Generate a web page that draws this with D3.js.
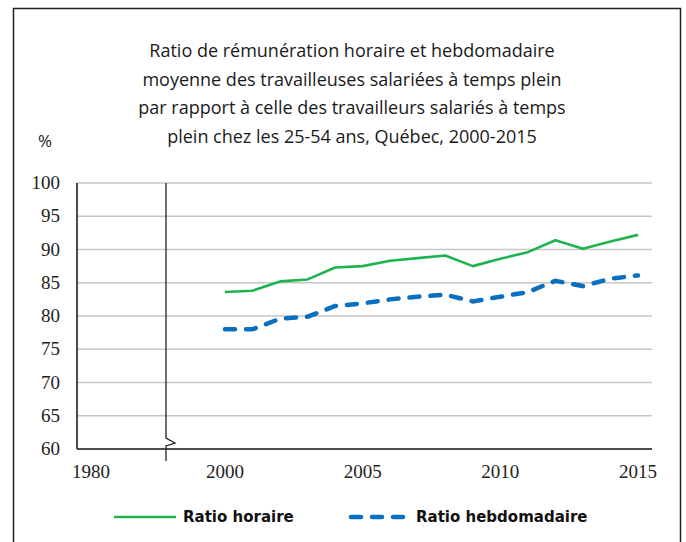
<!DOCTYPE html>
<html lang="fr">
  <head>
    <meta charset="UTF-8">
    <title>Ratio de rémunération</title>
    <style>
body{
    margin: 0;
    background: #fff;
}
svg{
    display: block;
}
    </style>
  </head>
  <body>
    <script src="https://cdn.jsdelivr.net/npm/d3@7/dist/d3.min.js"></script>
    <script>
// données
var years = [2000, 2001, 2002, 2003, 2004, 2005, 2006, 2007, 2008, 2009, 2010, 2011, 2012, 2013, 2014, 2015];
var ratioHoraire = [83.6, 83.8, 85.2, 85.5, 87.3, 87.5, 88.3, 88.7, 89.1, 87.5, 88.6, 89.6, 91.4, 90.1, 91.2, 92.2];
var ratioHebdo = [78.0, 78.0, 79.6, 79.9, 81.5, 81.9, 82.5, 82.9, 83.2, 82.2, 82.9, 83.6, 85.3, 84.5, 85.6, 86.1];
var yTicks = [60, 65, 70, 75, 80, 85, 90, 95, 100];
var xTicks = [1980, 2000, 2005, 2010, 2015];
var breakYear = 1990;
var titleLines = [
    "Ratio de rémunération horaire et hebdomadaire",
    "moyenne des travailleuses salariées à temps plein",
    "par rapport à celle des travailleurs salariés à temps",
    "plein chez les 25-54 ans, Québec, 2000-2015"
];
var seriesNames = ["Ratio horaire", "Ratio hebdomadaire"];

var width = 686, height = 542;
var plotLeft = 77, plotRight = 652, plotTop = 183, plotBottom = 449;
var green = "#1fb34f", blue = "#0b6fbf";

var svg = d3.select("body").append("svg")
    .attr("width", width)
    .attr("height", height);

// cadre
svg.append("rect")
    .attr("x", 13.5).attr("y", 8.5)
    .attr("width", 667).attr("height", 560)
    .attr("fill", "none")
    .attr("stroke", "#222")
    .attr("stroke-width", 1.5);

// titre
svg.append("g").selectAll("text")
    .data(titleLines)
    .enter().append("text")
    .attr("x", 352)
    .attr("y", function(d, i){ return 57 + i * 28.5; })
    .attr("text-anchor", "middle")
    .attr("font-family", "'Open Sans', sans-serif")
    .attr("font-size", 18)
    .attr("fill", "#1a1a1a")
    .text(function(d){ return d; });

svg.append("text")
    .attr("x", 45).attr("y", 147)
    .attr("text-anchor", "middle")
    .attr("font-family", "'Open Sans', sans-serif")
    .attr("font-size", 17)
    .attr("fill", "#1a1a1a")
    .text("%");

// échelles (axe brisé entre 1980 et 2000)
var x = d3.scaleLinear()
    .domain([1980, breakYear, 2000, 2015])
    .range([91, 166, 225, 638]);
var y = d3.scaleLinear().domain([60, 100]).range([plotBottom, plotTop]);

// grille
svg.append("g").selectAll("line")
    .data(yTicks.slice(1))
    .enter().append("line")
    .attr("x1", plotLeft).attr("x2", plotRight)
    .attr("y1", function(d){ return y(d); })
    .attr("y2", function(d){ return y(d); })
    .attr("stroke", "#c6c6c6")
    .attr("stroke-width", 1.3);

// étiquettes y
svg.append("g").selectAll("text")
    .data(yTicks)
    .enter().append("text")
    .attr("x", 60)
    .attr("y", function(d){ return y(d) + 6; })
    .attr("text-anchor", "end")
    .attr("font-family", "'Liberation Serif', serif")
    .attr("font-size", 19)
    .attr("fill", "#222")
    .text(function(d){ return d; });

// étiquettes x
svg.append("g").selectAll("text")
    .data(xTicks)
    .enter().append("text")
    .attr("x", function(d){ return x(d); })
    .attr("y", 478)
    .attr("text-anchor", "middle")
    .attr("font-family", "'Liberation Serif', serif")
    .attr("font-size", 19)
    .attr("fill", "#222")
    .text(function(d){ return d; });

// axes
svg.append("line")
    .attr("x1", plotLeft).attr("x2", plotLeft)
    .attr("y1", plotTop).attr("y2", plotBottom)
    .attr("stroke", "#111").attr("stroke-width", 1.5);
svg.append("line")
    .attr("x1", plotLeft).attr("x2", plotRight)
    .attr("y1", plotBottom).attr("y2", plotBottom)
    .attr("stroke", "#111").attr("stroke-width", 1.5);

// ligne de rupture
var bx = x(breakYear);
svg.append("path")
    .attr("d", "M" + bx + "," + plotTop + "V438L" + (bx + 9) + ",443L" + bx + ",446V461")
    .attr("fill", "none")
    .attr("stroke", "#222")
    .attr("stroke-width", 1.3);

// séries
var line = d3.line()
    .x(function(d){ return x(d[0]); })
    .y(function(d){ return y(d[1]); });

svg.append("path")
    .datum(d3.zip(years, ratioHoraire))
    .attr("d", line)
    .attr("fill", "none")
    .attr("stroke", green)
    .attr("stroke-width", 2.6)
    .attr("stroke-linejoin", "round");

svg.append("path")
    .datum(d3.zip(years, ratioHebdo))
    .attr("d", line)
    .attr("fill", "none")
    .attr("stroke", blue)
    .attr("stroke-width", 4.5)
    .attr("stroke-dasharray", "10,11")
    .attr("stroke-linecap", "round");

// légende
var legend = svg.append("g");
legend.append("line")
    .attr("x1", 114).attr("x2", 176)
    .attr("y1", 517).attr("y2", 517)
    .attr("stroke", green).attr("stroke-width", 2.6);
legend.append("line")
    .attr("x1", 351).attr("x2", 405)
    .attr("y1", 517).attr("y2", 517)
    .attr("stroke", blue).attr("stroke-width", 4.5)
    .attr("stroke-dasharray", "10,11")
    .attr("stroke-linecap", "round");
legend.selectAll("text")
    .data(seriesNames)
    .enter().append("text")
    .attr("x", function(d, i){ return i == 0 ? 183 : 416; })
    .attr("y", 522)
    .attr("font-family", "'DejaVu Sans', sans-serif")
    .attr("font-weight", "bold")
    .attr("font-size", 15)
    .attr("fill", "#111")
    .text(function(d){ return d; });
    </script>
  </body>
</html>
